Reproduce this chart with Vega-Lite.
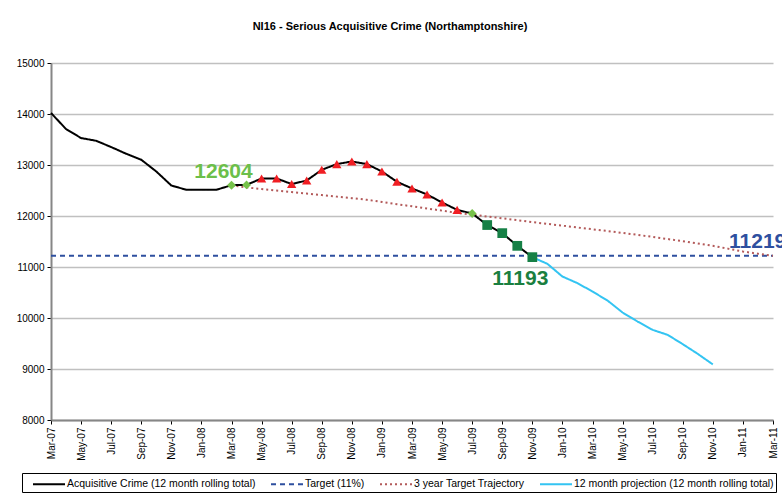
{
  "$schema": "https://vega.github.io/schema/vega-lite/v6.json",
  "width": 722,
  "height": 357,
  "autosize": {"type": "none"},
  "padding": {"left": 51, "top": 63, "right": 9, "bottom": 78},
  "background": "white",
  "config": {
    "font": "Liberation Sans",
    "view": {"stroke": null},
    "axis": {"labelFont": "Liberation Sans", "labelFontSize": 10, "labelColor": "#000"}
  },
  "title": {
    "text": "NI16 - Serious Acquisitive Crime (Northamptonshire)",
    "fontSize": 11,
    "fontWeight": "bold",
    "font": "Liberation Sans",
    "color": "#000",
    "anchor": "middle",
    "frame": "group",
    "dx": -22,
    "offset": 15,
    "baseline": "bottom"
  },
  "data": {
    "values": [
      {"month": "Mar-07", "value": 11219, "series": "target"},
      {"month": "Apr-07", "value": 11219, "series": "target"},
      {"month": "May-07", "value": 11219, "series": "target"},
      {"month": "Jun-07", "value": 11219, "series": "target"},
      {"month": "Jul-07", "value": 11219, "series": "target"},
      {"month": "Aug-07", "value": 11219, "series": "target"},
      {"month": "Sep-07", "value": 11219, "series": "target"},
      {"month": "Oct-07", "value": 11219, "series": "target"},
      {"month": "Nov-07", "value": 11219, "series": "target"},
      {"month": "Dec-07", "value": 11219, "series": "target"},
      {"month": "Jan-08", "value": 11219, "series": "target"},
      {"month": "Feb-08", "value": 11219, "series": "target"},
      {"month": "Mar-08", "value": 11219, "series": "target"},
      {"month": "Apr-08", "value": 11219, "series": "target"},
      {"month": "May-08", "value": 11219, "series": "target"},
      {"month": "Jun-08", "value": 11219, "series": "target"},
      {"month": "Jul-08", "value": 11219, "series": "target"},
      {"month": "Aug-08", "value": 11219, "series": "target"},
      {"month": "Sep-08", "value": 11219, "series": "target"},
      {"month": "Oct-08", "value": 11219, "series": "target"},
      {"month": "Nov-08", "value": 11219, "series": "target"},
      {"month": "Dec-08", "value": 11219, "series": "target"},
      {"month": "Jan-09", "value": 11219, "series": "target"},
      {"month": "Feb-09", "value": 11219, "series": "target"},
      {"month": "Mar-09", "value": 11219, "series": "target"},
      {"month": "Apr-09", "value": 11219, "series": "target"},
      {"month": "May-09", "value": 11219, "series": "target"},
      {"month": "Jun-09", "value": 11219, "series": "target"},
      {"month": "Jul-09", "value": 11219, "series": "target"},
      {"month": "Aug-09", "value": 11219, "series": "target"},
      {"month": "Sep-09", "value": 11219, "series": "target"},
      {"month": "Oct-09", "value": 11219, "series": "target"},
      {"month": "Nov-09", "value": 11219, "series": "target"},
      {"month": "Dec-09", "value": 11219, "series": "target"},
      {"month": "Jan-10", "value": 11219, "series": "target"},
      {"month": "Feb-10", "value": 11219, "series": "target"},
      {"month": "Mar-10", "value": 11219, "series": "target"},
      {"month": "Apr-10", "value": 11219, "series": "target"},
      {"month": "May-10", "value": 11219, "series": "target"},
      {"month": "Jun-10", "value": 11219, "series": "target"},
      {"month": "Jul-10", "value": 11219, "series": "target"},
      {"month": "Aug-10", "value": 11219, "series": "target"},
      {"month": "Sep-10", "value": 11219, "series": "target"},
      {"month": "Oct-10", "value": 11219, "series": "target"},
      {"month": "Nov-10", "value": 11219, "series": "target"},
      {"month": "Dec-10", "value": 11219, "series": "target"},
      {"month": "Jan-11", "value": 11219, "series": "target"},
      {"month": "Feb-11", "value": 11219, "series": "target"},
      {"month": "Mar-11", "value": 11219, "series": "target"},

      {"month": "Mar-08", "value": 12604, "series": "trajectory"},
      {"month": "Apr-08", "value": 12560, "series": "trajectory"},
      {"month": "May-08", "value": 12530, "series": "trajectory"},
      {"month": "Jun-08", "value": 12500, "series": "trajectory"},
      {"month": "Jul-08", "value": 12470, "series": "trajectory"},
      {"month": "Aug-08", "value": 12440, "series": "trajectory"},
      {"month": "Sep-08", "value": 12410, "series": "trajectory"},
      {"month": "Oct-08", "value": 12380, "series": "trajectory"},
      {"month": "Nov-08", "value": 12350, "series": "trajectory"},
      {"month": "Dec-08", "value": 12318, "series": "trajectory"},
      {"month": "Jan-09", "value": 12275, "series": "trajectory"},
      {"month": "Feb-09", "value": 12232, "series": "trajectory"},
      {"month": "Mar-09", "value": 12190, "series": "trajectory"},
      {"month": "Apr-09", "value": 12148, "series": "trajectory"},
      {"month": "May-09", "value": 12105, "series": "trajectory"},
      {"month": "Jun-09", "value": 12060, "series": "trajectory"},
      {"month": "Jul-09", "value": 12025, "series": "trajectory"},
      {"month": "Aug-09", "value": 11990, "series": "trajectory"},
      {"month": "Sep-09", "value": 11955, "series": "trajectory"},
      {"month": "Oct-09", "value": 11918, "series": "trajectory"},
      {"month": "Nov-09", "value": 11880, "series": "trajectory"},
      {"month": "Dec-09", "value": 11845, "series": "trajectory"},
      {"month": "Jan-10", "value": 11810, "series": "trajectory"},
      {"month": "Feb-10", "value": 11775, "series": "trajectory"},
      {"month": "Mar-10", "value": 11740, "series": "trajectory"},
      {"month": "Apr-10", "value": 11705, "series": "trajectory"},
      {"month": "May-10", "value": 11668, "series": "trajectory"},
      {"month": "Jun-10", "value": 11631, "series": "trajectory"},
      {"month": "Jul-10", "value": 11590, "series": "trajectory"},
      {"month": "Aug-10", "value": 11548, "series": "trajectory"},
      {"month": "Sep-10", "value": 11505, "series": "trajectory"},
      {"month": "Oct-10", "value": 11460, "series": "trajectory"},
      {"month": "Nov-10", "value": 11415, "series": "trajectory"},
      {"month": "Dec-10", "value": 11360, "series": "trajectory"},
      {"month": "Jan-11", "value": 11304, "series": "trajectory"},
      {"month": "Feb-11", "value": 11260, "series": "trajectory"},
      {"month": "Mar-11", "value": 11219, "series": "trajectory"},

      {"month": "Nov-09", "value": 11193, "series": "projection"},
      {"month": "Dec-09", "value": 11062, "series": "projection"},
      {"month": "Jan-10", "value": 10813, "series": "projection"},
      {"month": "Feb-10", "value": 10683, "series": "projection"},
      {"month": "Mar-10", "value": 10519, "series": "projection"},
      {"month": "Apr-10", "value": 10342, "series": "projection"},
      {"month": "May-10", "value": 10107, "series": "projection"},
      {"month": "Jun-10", "value": 9930, "series": "projection"},
      {"month": "Jul-10", "value": 9767, "series": "projection"},
      {"month": "Aug-10", "value": 9669, "series": "projection"},
      {"month": "Sep-10", "value": 9487, "series": "projection"},
      {"month": "Oct-10", "value": 9296, "series": "projection"},
      {"month": "Nov-10", "value": 9090, "series": "projection"},

      {"month": "Mar-07", "value": 14020, "series": "actual"},
      {"month": "Apr-07", "value": 13705, "series": "actual"},
      {"month": "May-07", "value": 13528, "series": "actual"},
      {"month": "Jun-07", "value": 13475, "series": "actual"},
      {"month": "Jul-07", "value": 13352, "series": "actual"},
      {"month": "Aug-07", "value": 13220, "series": "actual"},
      {"month": "Sep-07", "value": 13103, "series": "actual"},
      {"month": "Oct-07", "value": 12873, "series": "actual"},
      {"month": "Nov-07", "value": 12598, "series": "actual"},
      {"month": "Dec-07", "value": 12514, "series": "actual"},
      {"month": "Jan-08", "value": 12514, "series": "actual"},
      {"month": "Feb-08", "value": 12514, "series": "actual"},
      {"month": "Mar-08", "value": 12604, "series": "actual"},
      {"month": "Apr-08", "value": 12610, "series": "actual"},
      {"month": "May-08", "value": 12736, "series": "actual"},
      {"month": "Jun-08", "value": 12736, "series": "actual"},
      {"month": "Jul-08", "value": 12626, "series": "actual"},
      {"month": "Aug-08", "value": 12696, "series": "actual"},
      {"month": "Sep-08", "value": 12906, "series": "actual"},
      {"month": "Oct-08", "value": 13018, "series": "actual"},
      {"month": "Nov-08", "value": 13069, "series": "actual"},
      {"month": "Dec-08", "value": 13018, "series": "actual"},
      {"month": "Jan-09", "value": 12873, "series": "actual"},
      {"month": "Feb-09", "value": 12671, "series": "actual"},
      {"month": "Mar-09", "value": 12540, "series": "actual"},
      {"month": "Apr-09", "value": 12422, "series": "actual"},
      {"month": "May-09", "value": 12265, "series": "actual"},
      {"month": "Jun-09", "value": 12121, "series": "actual"},
      {"month": "Jul-09", "value": 12049, "series": "actual"},
      {"month": "Aug-09", "value": 11823, "series": "actual"},
      {"month": "Sep-09", "value": 11664, "series": "actual"},
      {"month": "Oct-09", "value": 11415, "series": "actual"},
      {"month": "Nov-09", "value": 11193, "series": "actual"}
    ]
  },
  "encoding": {
    "x": {
      "field": "month",
      "type": "ordinal",
      "scale": {
        "type": "point",
        "padding": 0,
        "domain": ["Mar-07","Apr-07","May-07","Jun-07","Jul-07","Aug-07","Sep-07","Oct-07","Nov-07","Dec-07","Jan-08","Feb-08","Mar-08","Apr-08","May-08","Jun-08","Jul-08","Aug-08","Sep-08","Oct-08","Nov-08","Dec-08","Jan-09","Feb-09","Mar-09","Apr-09","May-09","Jun-09","Jul-09","Aug-09","Sep-09","Oct-09","Nov-09","Dec-09","Jan-10","Feb-10","Mar-10","Apr-10","May-10","Jun-10","Jul-10","Aug-10","Sep-10","Oct-10","Nov-10","Dec-10","Jan-11","Feb-11","Mar-11"]
      },
      "axis": {
        "title": null,
        "values": ["Mar-07","May-07","Jul-07","Sep-07","Nov-07","Jan-08","Mar-08","May-08","Jul-08","Sep-08","Nov-08","Jan-09","Mar-09","May-09","Jul-09","Sep-09","Nov-09","Jan-10","Mar-10","May-10","Jul-10","Sep-10","Nov-10","Jan-11","Mar-11"],
        "labelAngle": -90,
        "labelPadding": 3,
        "tickSize": 4,
        "tickColor": "#000",
        "domainColor": "#868686",
        "domainWidth": 2,
        "grid": false
      }
    },
    "y": {
      "field": "value",
      "type": "quantitative",
      "scale": {"domain": [8000, 15000], "nice": false, "zero": false},
      "axis": {
        "title": null,
        "values": [8000, 9000, 10000, 11000, 12000, 13000, 14000, 15000],
        "format": "d",
        "tickSize": 4,
        "labelPadding": 3,
        "tickColor": "#000",
        "domainColor": "#868686",
        "domainWidth": 2,
        "grid": true,
        "gridColor": "#c0c0c0",
        "gridWidth": 1.5
      }
    }
  },
  "layer": [
    {
      "mark": {"type": "line", "interpolate": "linear"},
      "encoding": {
        "color": {
          "field": "series",
          "type": "nominal",
          "scale": {
            "domain": ["actual", "target", "trajectory", "projection"],
            "range": ["#000000", "#2e4f9f", "#b35a5a", "#33c4f2"]
          },
          "legend": {
            "title": null,
            "orient": "none",
            "legendX": -29,
            "legendY": 410,
            "direction": "horizontal",
            "columns": 4,
            "strokeColor": "#000",
            "fillColor": "#fff",
            "padding": 2,
            "cornerRadius": 0,
            "labelFont": "Liberation Sans",
            "labelFontSize": 10.5,
            "labelColor": "#000",
            "labelOffset": 9,
            "columnPadding": 6,
            "symbolType": "M-2,0H2",
            "symbolSize": 256,
            "symbolOffset": 16,
            "symbolStrokeWidth": 1.5,
            "labelLimit": 400,
            "labelExpr": "datum.label == 'actual' ? 'Acquisitive Crime (12 month rolling total)' : datum.label == 'target' ? 'Target (11%)' : datum.label == 'trajectory' ? '3 year Target Trajectory' : '12 month projection (12 month rolling total)'"
          }
        },
        "strokeDash": {
          "field": "series",
          "type": "nominal",
          "scale": {
            "domain": ["actual", "target", "trajectory", "projection"],
            "range": [[1, 0], [5, 4], [2, 3], [1, 0]]
          },
          "legend": {
            "title": null,
            "orient": "none",
            "legendX": -29,
            "legendY": 410,
            "direction": "horizontal",
            "columns": 4,
            "strokeColor": "#000",
            "fillColor": "#fff",
            "padding": 2,
            "cornerRadius": 0,
            "labelFont": "Liberation Sans",
            "labelFontSize": 10.5,
            "labelColor": "#000",
            "labelOffset": 9,
            "columnPadding": 6,
            "symbolType": "M-2,0H2",
            "symbolSize": 256,
            "symbolOffset": 16,
            "symbolStrokeWidth": 1.5,
            "labelLimit": 400,
            "labelExpr": "datum.label == 'actual' ? 'Acquisitive Crime (12 month rolling total)' : datum.label == 'target' ? 'Target (11%)' : datum.label == 'trajectory' ? '3 year Target Trajectory' : '12 month projection (12 month rolling total)'"
          }
        },
        "strokeWidth": {
          "field": "series",
          "type": "nominal",
          "scale": {
            "domain": ["actual", "target", "trajectory", "projection"],
            "range": [2, 2, 1.5, 1.2]
          },
          "legend": null
        }
      }
    },
    {
      "data": {
        "values": [
          {"month": "Mar-08", "value": 12604, "kind": "diamond"},
          {"month": "Apr-08", "value": 12610, "kind": "diamond"},
          {"month": "May-08", "value": 12736, "kind": "triangle"},
          {"month": "Jun-08", "value": 12736, "kind": "triangle"},
          {"month": "Jul-08", "value": 12626, "kind": "triangle"},
          {"month": "Aug-08", "value": 12696, "kind": "triangle"},
          {"month": "Sep-08", "value": 12906, "kind": "triangle"},
          {"month": "Oct-08", "value": 13018, "kind": "triangle"},
          {"month": "Nov-08", "value": 13069, "kind": "triangle"},
          {"month": "Dec-08", "value": 13018, "kind": "triangle"},
          {"month": "Jan-09", "value": 12873, "kind": "triangle"},
          {"month": "Feb-09", "value": 12671, "kind": "triangle"},
          {"month": "Mar-09", "value": 12540, "kind": "triangle"},
          {"month": "Apr-09", "value": 12422, "kind": "triangle"},
          {"month": "May-09", "value": 12265, "kind": "triangle"},
          {"month": "Jun-09", "value": 12121, "kind": "triangle"},
          {"month": "Jul-09", "value": 12049, "kind": "diamond"},
          {"month": "Aug-09", "value": 11823, "kind": "square"},
          {"month": "Sep-09", "value": 11664, "kind": "square"},
          {"month": "Oct-09", "value": 11415, "kind": "square"},
          {"month": "Nov-09", "value": 11193, "kind": "square"}
        ]
      },
      "mark": {"type": "point", "filled": true, "opacity": 1, "strokeWidth": 0},
      "encoding": {
        "shape": {
          "field": "kind",
          "type": "nominal",
          "scale": {"domain": ["diamond", "triangle", "square"], "range": ["diamond", "triangle-up", "square"]},
          "legend": null
        },
        "fill": {
          "field": "kind",
          "type": "nominal",
          "scale": {"domain": ["diamond", "triangle", "square"], "range": ["#77c24a", "#f01e23", "#168046"]},
          "legend": null
        },
        "size": {
          "field": "kind",
          "type": "nominal",
          "scale": {"domain": ["diamond", "triangle", "square"], "range": [80, 95, 95]},
          "legend": null
        }
      }
    },
    {
      "data": {"values": [{"month": "Mar-08", "value": 12604, "label": "12604"}]},
      "mark": {"type": "text", "font": "Liberation Sans", "fontSize": 21, "fontWeight": "bold", "color": "#6cbf4a", "align": "center", "baseline": "alphabetic", "dx": -8, "dy": -7.5},
      "encoding": {"text": {"field": "label", "type": "nominal"}}
    },
    {
      "data": {"values": [{"month": "Nov-09", "value": 11193, "label": "11193"}]},
      "mark": {"type": "text", "font": "Liberation Sans", "fontSize": 21, "fontWeight": "bold", "color": "#1a7f40", "align": "center", "baseline": "alphabetic", "dx": -12, "dy": 28},
      "encoding": {"text": {"field": "label", "type": "nominal"}}
    },
    {
      "data": {"values": [{"month": "Mar-11", "value": 11219, "label": "11219"}]},
      "mark": {"type": "text", "font": "Liberation Sans", "fontSize": 21, "fontWeight": "bold", "color": "#2e4f9f", "align": "left", "baseline": "alphabetic", "dx": -44, "dy": -7.5},
      "encoding": {"text": {"field": "label", "type": "nominal"}}
    }
  ]
}
